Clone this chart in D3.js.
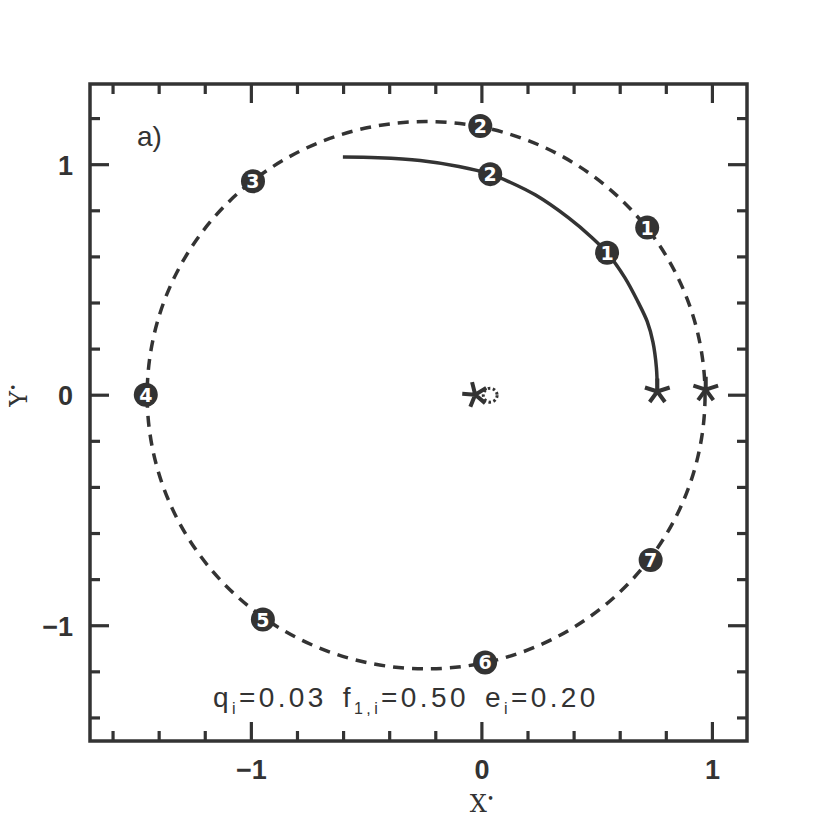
<!DOCTYPE html>
<html>
<head>
<meta charset="utf-8">
<script src="https://cdn.jsdelivr.net/npm/d3@7"></script>
<style>
  body { margin: 0; background: #fff; }
  svg { display: block; }
</style>
</head>
<body>
<div id="chart"></div>
<script>
// Axis ticks
const xMajorTicks = [-1, 0, 1];
const yMajorTicks = [-1, 0, 1];

// Dashed (initial) orbit: ellipse centre and semi-axes, in X*/Y* units
const orbitCenter = [-0.242, 0];
const orbitRadii = [1.21, 1.187];

// Numbered markers on the dashed orbit
const dashedLabels = ["1", "2", "3", "4", "5", "6", "7"];
const dashedX = [0.717, -0.007, -0.993, -1.458, -0.95, 0.014, 0.732];
const dashedY = [0.727, 1.168, 0.928, 0.002, -0.973, -1.159, -0.715];

// Solid track
const trackX = [0.761, 0.757, 0.742, 0.717, 0.677, 0.620, 0.543, 0.478, 0.375, 0.233, 0.120, 0.036, -0.100, -0.268, -0.450, -0.603];
const trackY = [0.016, 0.120, 0.230, 0.320, 0.405, 0.510, 0.618, 0.683, 0.770, 0.868, 0.925, 0.959, 0.992, 1.018, 1.030, 1.033];

// Numbered markers on the solid track
const solidLabels = ["1", "2"];
const solidX = [0.543, 0.036];
const solidY = [0.618, 0.959];

// Star symbols
const starX = [0.761, 0.971, -0.029];
const starY = [0.016, 0.024, 0.002];
const starRot = [0, 0, -14];

// Small dotted circle next to the central star
const ringX = [0.036];
const ringY = [0.0];
const ringR = [0.03];

const ink = "#333";
const width = 830, height = 830;
const margin = { left: 90, right: 83, top: 84, bottom: 89 };

const svg = d3.select("#chart").append("svg")
    .attr("width", width)
    .attr("height", height);

const x = d3.scaleLinear().domain([-1.7, 1.15]).range([margin.left, width - margin.right]);
const y = d3.scaleLinear().domain([-1.5, 1.35]).range([height - margin.bottom, margin.top]);

const x0 = x.range()[0], x1 = x.range()[1];
const y0 = y.range()[0], y1 = y.range()[1];

// Ticks on all four sides, pointing inward
const xMinor = d3.range(-16, 12, 2).map(d => d / 10).filter(v => !xMajorTicks.includes(Math.round(v * 10) / 10));
const yMinor = d3.range(-14, 14, 2).map(d => d / 10).filter(v => !yMajorTicks.includes(Math.round(v * 10) / 10));
const majLen = 19, minLen = 10;
const ticks = svg.append("g").attr("stroke", ink).attr("stroke-width", 3.2);

function xTick(v, len) {
    ticks.append("line").attr("x1", x(v)).attr("x2", x(v)).attr("y1", y0).attr("y2", y0 - len);
    ticks.append("line").attr("x1", x(v)).attr("x2", x(v)).attr("y1", y1).attr("y2", y1 + len);
}
function yTick(v, len) {
    ticks.append("line").attr("y1", y(v)).attr("y2", y(v)).attr("x1", x0).attr("x2", x0 + len);
    ticks.append("line").attr("y1", y(v)).attr("y2", y(v)).attr("x1", x1).attr("x2", x1 - len);
}
xMajorTicks.forEach(v => xTick(v, majLen));
xMinor.forEach(v => xTick(v, minLen));
yMajorTicks.forEach(v => yTick(v, majLen));
yMinor.forEach(v => yTick(v, minLen));

// Frame
svg.append("rect")
    .attr("x", x0).attr("y", y1)
    .attr("width", x1 - x0).attr("height", y0 - y1)
    .attr("fill", "none").attr("stroke", ink).attr("stroke-width", 3.5);

// Tick labels
const fmt = v => v < 0 ? "\u2212" + Math.abs(v) : String(v);
svg.append("g").selectAll("text").data(xMajorTicks).join("text")
    .attr("x", d => x(d)).attr("y", y0 + 38)
    .attr("text-anchor", "middle")
    .attr("font-family", "Liberation Sans, Arial, sans-serif")
    .attr("font-weight", "bold").attr("font-size", 27).attr("fill", ink)
    .text(fmt);
svg.append("g").selectAll("text").data(yMajorTicks).join("text")
    .attr("x", x0 - 17).attr("y", d => y(d) + 10)
    .attr("text-anchor", "end")
    .attr("font-family", "Liberation Sans, Arial, sans-serif")
    .attr("font-weight", "bold").attr("font-size", 27).attr("fill", ink)
    .text(fmt);

// Axis titles
const xt = svg.append("text")
    .attr("x", x(0)).attr("y", 812)
    .attr("text-anchor", "middle")
    .attr("font-family", "DejaVu Serif, serif").attr("font-size", 24).attr("fill", ink);
xt.append("tspan").text("X");
xt.append("tspan").attr("dy", -9).attr("font-size", 12).text("\u2022");
const yt = svg.append("text")
    .attr("transform", `translate(27,${y(0)}) rotate(-90)`)
    .attr("text-anchor", "middle")
    .attr("font-family", "DejaVu Serif, serif").attr("font-size", 24).attr("fill", ink);
yt.append("tspan").text("Y");
yt.append("tspan").attr("dy", -9).attr("font-size", 12).text("\u2022");

// Panel label
svg.append("text")
    .attr("x", 137).attr("y", 146)
    .attr("font-family", "Liberation Sans, Arial, sans-serif")
    .attr("font-size", 28).attr("fill", ink)
    .text("a)");

// Dashed orbit
svg.append("ellipse")
    .attr("cx", x(orbitCenter[0])).attr("cy", y(orbitCenter[1]))
    .attr("rx", x(orbitCenter[0] + orbitRadii[0]) - x(orbitCenter[0]))
    .attr("ry", y(orbitCenter[1]) - y(orbitCenter[1] + orbitRadii[1]))
    .attr("fill", "none").attr("stroke", ink).attr("stroke-width", 3.5)
    .attr("stroke-dasharray", "11,8");

// Solid track
const line = d3.line().x(d => x(d[0])).y(d => y(d[1])).curve(d3.curveCatmullRom);
svg.append("path")
    .datum(d3.zip(trackX, trackY))
    .attr("d", line)
    .attr("fill", "none").attr("stroke", ink).attr("stroke-width", 3.5);

// Stars (5-armed asterisks)
function starPath(r) {
    let p = "";
    for (let k = 0; k < 5; k++) {
        const a = (90 + 72 * k) * Math.PI / 180;
        p += `M0,0L${r * Math.cos(a)},${-r * Math.sin(a)}`;
    }
    return p;
}
svg.append("g").selectAll("path").data(d3.range(starX.length)).join("path")
    .attr("transform", i => `translate(${x(starX[i])},${y(starY[i])}) rotate(${starRot[i]})`)
    .attr("d", starPath(13))
    .attr("stroke", ink).attr("stroke-width", 4).attr("stroke-linecap", "butt")
    .attr("fill", "none");

// Dotted ring
svg.append("g").selectAll("circle").data(d3.range(ringX.length)).join("circle")
    .attr("cx", i => x(ringX[i])).attr("cy", i => y(ringY[i]))
    .attr("r", i => x(ringR[i]) - x(0))
    .attr("fill", "none").attr("stroke", ink).attr("stroke-width", 3)
    .attr("stroke-dasharray", "2.5,2.5");

// Numbered markers
function markers(xs, ys, labels) {
    const g = svg.append("g").selectAll("g").data(d3.range(xs.length)).join("g")
        .attr("transform", i => `translate(${x(xs[i])},${y(ys[i])})`);
    g.append("circle").attr("r", 12).attr("fill", ink);
    g.append("text")
        .attr("text-anchor", "middle").attr("y", 7)
        .attr("font-family", "DejaVu Sans, sans-serif")
        .attr("font-weight", "bold").attr("font-size", 19)
        .attr("fill", "#fff")
        .text(i => labels[i]);
}
markers(dashedX, dashedY, dashedLabels);
markers(solidX, solidY, solidLabels);

// Parameter annotation
const ann = svg.append("text")
    .attr("x", 213).attr("y", 707)
    .attr("font-family", "Liberation Sans, Arial, sans-serif")
    .attr("font-size", 28).attr("letter-spacing", 3.4).attr("fill", ink);
ann.append("tspan").text("q");
ann.append("tspan").attr("dy", 7).attr("font-size", 16).text("i");
ann.append("tspan").attr("dy", -7).text("=0.03");
ann.append("tspan").attr("dx", 16).text("f");
ann.append("tspan").attr("dy", 7).attr("font-size", 16).text("1,i");
ann.append("tspan").attr("dy", -7).text("=0.50");
ann.append("tspan").attr("dx", 16).text("e");
ann.append("tspan").attr("dy", 7).attr("font-size", 16).text("i");
ann.append("tspan").attr("dy", -7).text("=0.20");
</script>
</body>
</html>
